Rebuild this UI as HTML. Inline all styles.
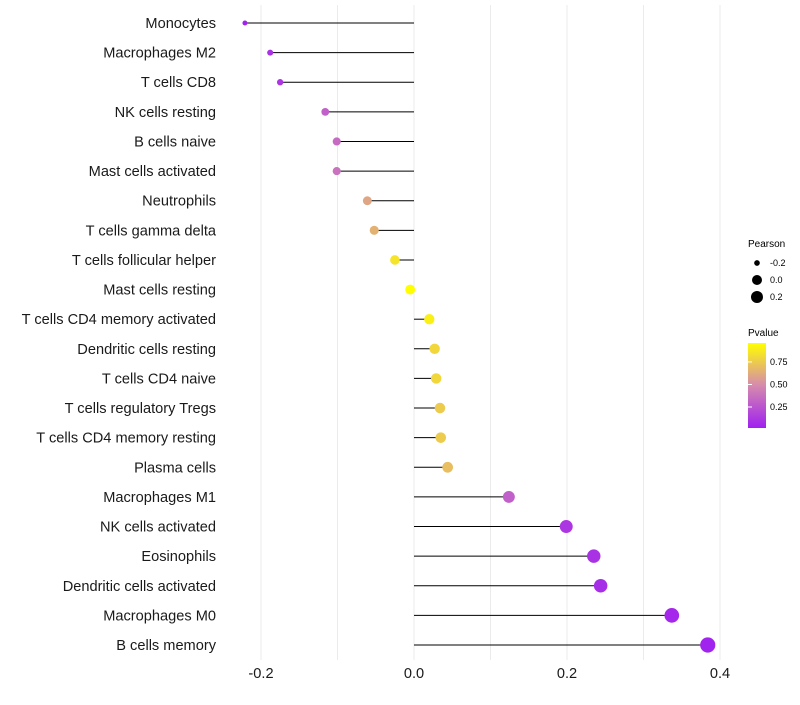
<!DOCTYPE html>
<html><head><meta charset="utf-8"><style>
body{margin:0;background:#fff;font-family:"Liberation Sans",sans-serif}
svg text{font-family:"Liberation Sans",sans-serif}
</style></head><body>
<svg id="chart" width="800" height="700" xmlns="http://www.w3.org/2000/svg">
<g id="grid"></g>
<g id="marks"></g>
<g id="ylab"></g>
<g id="xlab"></g>
<g id="legend">
<text x="748" y="247" font-size="10">Pearson</text>
<text x="748" y="336" font-size="10">Pvalue</text>
<defs><linearGradient id="pg" x1="0" y1="1" x2="0" y2="0">
<stop offset="0" stop-color="#A020F0"/><stop offset="0.5" stop-color="#D58AAE"/><stop offset="1" stop-color="#FFFF00"/></linearGradient></defs>
<rect x="748" y="343" width="18" height="85" fill="url(#pg)"/>
</g>
</svg>
<script>
const categories=["Monocytes","Macrophages M2","T cells CD8","NK cells resting","B cells naive","Mast cells activated","Neutrophils","T cells gamma delta","T cells follicular helper","Mast cells resting","T cells CD4 memory activated","Dendritic cells resting","T cells CD4 naive","T cells regulatory  Tregs ","T cells CD4 memory resting","Plasma cells","Macrophages M1","NK cells activated","Eosinophils","Dendritic cells activated","Macrophages M0","B cells memory"];
const pearson=[-0.221,-0.188,-0.175,-0.116,-0.101,-0.101,-0.061,-0.052,-0.025,-0.005,0.020,0.027,0.029,0.034,0.035,0.044,0.124,0.199,0.235,0.244,0.337,0.384];
const pvalue=[0.03,0.1,0.12,0.3,0.35,0.38,0.6,0.65,0.85,0.97,0.9,0.8,0.8,0.75,0.75,0.7,0.3,0.12,0.1,0.08,0.05,0.03];
const xTicks=[-0.2,0.0,0.2,0.4];
const xTickLabels=["-0.2","0.0","0.2","0.4"];
const gridVals=[-0.2,-0.1,0,0.1,0.2,0.3,0.4];
const sizeLegend=[-0.2,0.0,0.2];
const sizeLegendLabels=["-0.2","0.0","0.2"];
const colorLegend=[0.75,0.5,0.25];
const colorLegendLabels=["0.75","0.50","0.25"];
const NS="http://www.w3.org/2000/svg";
const x=v=>414+v*765;
const y=i=>23+i*(622/21);
const r=v=>Math.sqrt(Math.max(2.5,25+85*v));
function lerp(a,b,t){return a.map((c,i)=>Math.round(c+(b[i]-c)*t));}
function col(p){const t=(p-0.017)/(0.96-0.017);const A=[160,32,240],M=[213,138,174],B=[255,255,0];
let c=t<0.5?lerp(A,M,Math.max(0,t)/0.5):lerp(M,B,Math.min(1,(t-0.5)/0.5));return `rgb(${c})`;}
function mk(tag,at,parent){const e=document.createElementNS(NS,tag);for(const k in at)e.setAttribute(k,at[k]);document.getElementById(parent).appendChild(e);return e;}
gridVals.forEach(v=>{const l=mk('line',{x1:x(v),x2:x(v),y1:5,y2:660,stroke:'#ebebeb','stroke-width':1},'grid');

});
categories.forEach((c,i)=>{
 const t=mk('text',{x:216,y:y(i)+5,'text-anchor':'end','font-size':14.6,fill:'#1a1a1a'},'ylab');t.textContent=c;
 
 
 const l=mk('line',{x1:x(0),x2:x(pearson[i]),y1:y(i),y2:y(i),stroke:'#000','stroke-width':1},'marks');
 
 
 const d=mk('circle',{cx:x(pearson[i]),cy:y(i),r:r(pearson[i]),fill:col(pvalue[i])},'marks');
 
 
});
xTicks.forEach((v,i)=>{const t=mk('text',{x:x(v),y:678,'text-anchor':'middle','font-size':14.6,fill:'#1a1a1a'},'xlab');t.textContent=xTickLabels[i];

});
sizeLegend.forEach((v,i)=>{const cy=263+i*17;
const c=mk('circle',{cx:757,cy:cy,r:Math.min(6,r(v)),fill:'#000'},'legend');


const t=mk('text',{x:770,y:cy+3,'font-size':9},'legend');t.textContent=sizeLegendLabels[i];

});
colorLegend.forEach((v,i)=>{const cy=343+(0.96-v)/(0.96-0.017)*85;
const l=mk('line',{x1:748,x2:752,y1:cy,y2:cy,stroke:'#fff'},'legend');


const t=mk('text',{x:770,y:cy+3,'font-size':9},'legend');t.textContent=colorLegendLabels[i];

});
</script>
</body></html>
